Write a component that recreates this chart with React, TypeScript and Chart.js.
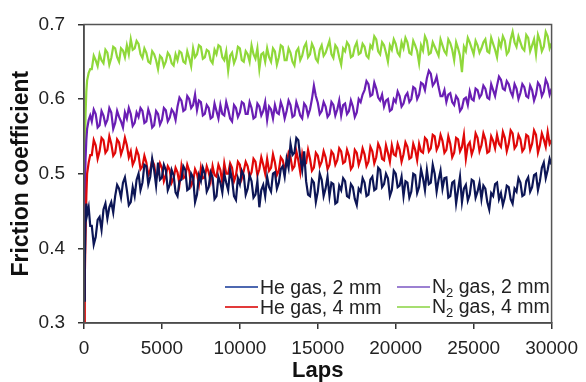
import React, { useEffect, useRef } from "react";
import { Chart, registerables } from "chart.js";

Chart.register(...registerables);

// Laps sampled: a few early points for the steep run-in, then every 250 laps, plus mid samples (every 250, offset 125)
const EARLY_LAPS = [0, 50, 100, 150, 200, 300, 400];
const MAIN_LAPS = Array.from({ length: 119 }, (_, i) => 500 + i * 250);
const MID_LAPS = Array.from({ length: 118 }, (_, i) => 625 + i * 250);

const X_TICKS = [0, 5000, 10000, 15000, 20000, 25000, 30000];
const Y_TICKS = [0.3, 0.4, 0.5, 0.6, 0.7];

// ---------- He gas, 2 mm ----------
const HE_2MM_START = [0.33, 0.38, 0.44, 0.46, 0.445, 0.455, 0.43];
const HE_2MM = [
  0.430, 0.415, 0.442, 0.452, 0.440, 0.462, 0.470, 0.480, 0.488, 0.478,
  0.462, 0.470, 0.500, 0.488, 0.510, 0.496, 0.505, 0.515, 0.495, 0.505,
  0.485, 0.498, 0.470, 0.492, 0.505, 0.480, 0.495, 0.472, 0.490, 0.500,
  0.482, 0.495, 0.470, 0.488, 0.500, 0.478, 0.492, 0.465, 0.486, 0.498,
  0.480, 0.490, 0.472, 0.455, 0.485, 0.496, 0.476, 0.502, 0.488, 0.510,
  0.520, 0.540, 0.528, 0.545, 0.505, 0.490, 0.470, 0.488, 0.476, 0.492,
  0.480, 0.470, 0.486, 0.462, 0.478, 0.490, 0.468, 0.482, 0.458, 0.476,
  0.488, 0.472, 0.496, 0.480, 0.505, 0.486, 0.494, 0.478, 0.500, 0.484,
  0.470, 0.488, 0.476, 0.498, 0.482, 0.494, 0.505, 0.488, 0.500, 0.492,
  0.480, 0.495, 0.470, 0.490, 0.478, 0.462, 0.485, 0.472, 0.490, 0.476,
  0.466, 0.480, 0.452, 0.470, 0.488, 0.474, 0.468, 0.482, 0.460, 0.476,
  0.488, 0.472, 0.495, 0.482, 0.500, 0.490, 0.515, 0.505, 0.512,
];
const HE_2MM_MID = [
  0.405, 0.438, 0.425, 0.460, 0.455, 0.448, 0.485, 0.468, 0.495, 0.458,
  0.482, 0.492, 0.478, 0.512, 0.486, 0.520, 0.484, 0.492, 0.512, 0.478,
  0.505, 0.475, 0.490, 0.510, 0.478, 0.500, 0.462, 0.498, 0.508, 0.476,
  0.502, 0.466, 0.496, 0.475, 0.488, 0.505, 0.470, 0.494, 0.504, 0.472,
  0.498, 0.468, 0.490, 0.478, 0.470, 0.482, 0.500, 0.480, 0.506, 0.496,
  0.508, 0.525, 0.548, 0.522, 0.530, 0.472, 0.492, 0.462, 0.500, 0.470,
  0.496, 0.488, 0.460, 0.484, 0.494, 0.470, 0.486, 0.466, 0.480, 0.494,
  0.470, 0.492, 0.478, 0.508, 0.482, 0.500, 0.470, 0.504, 0.482, 0.496,
  0.490, 0.468, 0.500, 0.474, 0.506, 0.478, 0.486, 0.512, 0.476, 0.504,
  0.494, 0.468, 0.488, 0.460, 0.496, 0.480, 0.464, 0.492, 0.468, 0.488,
  0.484, 0.462, 0.474, 0.486, 0.466, 0.458, 0.484, 0.466, 0.480, 0.494,
  0.470, 0.490, 0.476, 0.498, 0.478, 0.508, 0.494, 0.520,
];

// ---------- He gas, 4 mm ----------
const HE_4MM_START = [0.30, 0.36, 0.42, 0.47, 0.50, 0.515, 0.525];
const HE_4MM = [
  0.525, 0.538, 0.530, 0.545, 0.532, 0.540, 0.528, 0.542, 0.534, 0.538,
  0.530, 0.518, 0.525, 0.510, 0.515, 0.505, 0.512, 0.500, 0.508, 0.498,
  0.505, 0.494, 0.502, 0.510, 0.496, 0.504, 0.490, 0.500, 0.508, 0.495,
  0.502, 0.510, 0.496, 0.505, 0.514, 0.500, 0.508, 0.498, 0.512, 0.504,
  0.510, 0.502, 0.516, 0.506, 0.512, 0.520, 0.508, 0.515, 0.504, 0.518,
  0.512, 0.522, 0.510, 0.518, 0.526, 0.514, 0.520, 0.508, 0.524, 0.516,
  0.522, 0.512, 0.526, 0.518, 0.530, 0.516, 0.524, 0.510, 0.528, 0.520,
  0.526, 0.516, 0.530, 0.522, 0.534, 0.518, 0.528, 0.538, 0.524, 0.532,
  0.526, 0.536, 0.522, 0.532, 0.540, 0.528, 0.545, 0.534, 0.550, 0.538,
  0.544, 0.532, 0.540, 0.528, 0.546, 0.536, 0.520, 0.542, 0.534, 0.548,
  0.538, 0.546, 0.530, 0.544, 0.552, 0.536, 0.548, 0.540, 0.554, 0.538,
  0.546, 0.534, 0.550, 0.540, 0.552, 0.538, 0.546, 0.556, 0.545,
];
const HE_4MM_MID = [
  0.545, 0.520, 0.548, 0.528, 0.550, 0.524, 0.546, 0.526, 0.548, 0.522,
  0.512, 0.532, 0.506, 0.524, 0.498, 0.518, 0.494, 0.514, 0.490, 0.510,
  0.488, 0.508, 0.486, 0.494, 0.512, 0.484, 0.506, 0.486, 0.494, 0.510,
  0.490, 0.498, 0.512, 0.488, 0.500, 0.514, 0.490, 0.516, 0.494, 0.516,
  0.496, 0.520, 0.498, 0.522, 0.500, 0.504, 0.526, 0.498, 0.522, 0.506,
  0.528, 0.506, 0.530, 0.502, 0.512, 0.532, 0.504, 0.528, 0.510, 0.530,
  0.506, 0.530, 0.512, 0.534, 0.514, 0.532, 0.506, 0.532, 0.512, 0.534,
  0.510, 0.536, 0.514, 0.540, 0.520, 0.538, 0.516, 0.526, 0.540, 0.516,
  0.542, 0.520, 0.540, 0.518, 0.530, 0.548, 0.530, 0.552, 0.532, 0.552,
  0.528, 0.550, 0.522, 0.548, 0.530, 0.552, 0.538, 0.526, 0.554, 0.530,
  0.554, 0.528, 0.550, 0.534, 0.540, 0.556, 0.530, 0.558, 0.534, 0.552,
  0.530, 0.552, 0.532, 0.558, 0.528, 0.554, 0.536, 0.540,
];

// ---------- N2 gas, 2 mm ----------
const N2_2MM_START = [0.40, 0.47, 0.52, 0.545, 0.56, 0.572, 0.578];
const N2_2MM = [
  0.570, 0.580, 0.565, 0.578, 0.572, 0.582, 0.568, 0.576, 0.562, 0.574,
  0.580, 0.568, 0.576, 0.584, 0.570, 0.578, 0.565, 0.580, 0.572, 0.585,
  0.575, 0.582, 0.590, 0.598, 0.586, 0.600, 0.592, 0.585, 0.596, 0.580,
  0.588, 0.576, 0.584, 0.592, 0.578, 0.586, 0.570, 0.588, 0.582, 0.594,
  0.580, 0.588, 0.576, 0.590, 0.584, 0.572, 0.586, 0.592, 0.580, 0.588,
  0.584, 0.592, 0.578, 0.588, 0.574, 0.590, 0.586, 0.618, 0.595, 0.584,
  0.590, 0.580, 0.592, 0.586, 0.578, 0.594, 0.584, 0.590, 0.582, 0.596,
  0.612, 0.620, 0.606, 0.614, 0.598, 0.590, 0.600, 0.586, 0.596, 0.604,
  0.594, 0.608, 0.600, 0.614, 0.606, 0.620, 0.628, 0.634, 0.622, 0.616,
  0.604, 0.596, 0.608, 0.592, 0.600, 0.588, 0.602, 0.610, 0.598, 0.612,
  0.606, 0.614, 0.600, 0.612, 0.618, 0.626, 0.612, 0.620, 0.604, 0.614,
  0.608, 0.616, 0.602, 0.612, 0.606, 0.618, 0.610, 0.620, 0.614,
];
const N2_2MM_MID = [
  0.586, 0.562, 0.584, 0.566, 0.588, 0.560, 0.584, 0.570, 0.582, 0.588,
  0.564, 0.582, 0.588, 0.568, 0.586, 0.562, 0.584, 0.566, 0.588, 0.570,
  0.586, 0.572, 0.602, 0.584, 0.604, 0.588, 0.606, 0.598, 0.578, 0.592,
  0.574, 0.594, 0.574, 0.580, 0.596, 0.574, 0.592, 0.576, 0.596, 0.580,
  0.596, 0.574, 0.594, 0.578, 0.596, 0.590, 0.574, 0.582, 0.596, 0.574,
  0.598, 0.576, 0.596, 0.578, 0.594, 0.578, 0.600, 0.604, 0.580, 0.596,
  0.576, 0.596, 0.578, 0.598, 0.592, 0.580, 0.598, 0.576, 0.600, 0.606,
  0.624, 0.604, 0.622, 0.602, 0.606, 0.598, 0.584, 0.600, 0.610, 0.590,
  0.604, 0.596, 0.616, 0.600, 0.622, 0.612, 0.638, 0.618, 0.630, 0.604,
  0.612, 0.606, 0.596, 0.604, 0.584, 0.600, 0.592, 0.600, 0.614, 0.602,
  0.618, 0.602, 0.620, 0.604, 0.630, 0.614, 0.624, 0.610, 0.620, 0.600,
  0.620, 0.604, 0.618, 0.598, 0.622, 0.604, 0.626, 0.606,
];

// ---------- N2 gas, 4 mm ----------
const N2_4MM_START = [0.43, 0.52, 0.58, 0.61, 0.625, 0.635, 0.64];
const N2_4MM = [
  0.640, 0.652, 0.660, 0.648, 0.662, 0.655, 0.668, 0.650, 0.665, 0.672,
  0.680, 0.668, 0.674, 0.655, 0.662, 0.648, 0.660, 0.640, 0.655, 0.650,
  0.658, 0.645, 0.652, 0.662, 0.648, 0.655, 0.668, 0.660, 0.670, 0.656,
  0.664, 0.648, 0.660, 0.670, 0.652, 0.638, 0.662, 0.655, 0.668, 0.650,
  0.660, 0.672, 0.654, 0.640, 0.662, 0.668, 0.650, 0.664, 0.656, 0.670,
  0.652, 0.662, 0.645, 0.668, 0.658, 0.675, 0.660, 0.668, 0.650, 0.672,
  0.662, 0.678, 0.655, 0.668, 0.646, 0.664, 0.672, 0.658, 0.676, 0.662,
  0.670, 0.655, 0.668, 0.680, 0.660, 0.672, 0.650, 0.666, 0.674, 0.658,
  0.668, 0.676, 0.660, 0.672, 0.648, 0.665, 0.678, 0.662, 0.670, 0.658,
  0.672, 0.660, 0.675, 0.652, 0.668, 0.636, 0.664, 0.676, 0.660, 0.672,
  0.668, 0.680, 0.662, 0.674, 0.656, 0.670, 0.678, 0.664, 0.690, 0.670,
  0.676, 0.665, 0.682, 0.672, 0.660, 0.678, 0.670, 0.684, 0.675,
];
const N2_4MM_MID = [
  0.658, 0.644, 0.652, 0.666, 0.646, 0.670, 0.656, 0.668, 0.656, 0.660,
  0.666, 0.678, 0.660, 0.668, 0.650, 0.664, 0.652, 0.658, 0.644, 0.662,
  0.648, 0.660, 0.664, 0.650, 0.664, 0.644, 0.656, 0.672, 0.654, 0.666,
  0.652, 0.666, 0.672, 0.656, 0.664, 0.658, 0.648, 0.670, 0.652, 0.664,
  0.650, 0.660, 0.668, 0.660, 0.650, 0.656, 0.668, 0.646, 0.672, 0.652,
  0.668, 0.650, 0.664, 0.652, 0.670, 0.656, 0.674, 0.654, 0.666, 0.658,
  0.670, 0.660, 0.672, 0.656, 0.668, 0.676, 0.656, 0.670, 0.660, 0.674,
  0.658, 0.672, 0.684, 0.664, 0.676, 0.662, 0.672, 0.680, 0.662, 0.676,
  0.682, 0.662, 0.678, 0.664, 0.672, 0.684, 0.660, 0.676, 0.664, 0.680,
  0.664, 0.680, 0.666, 0.676, 0.658, 0.670, 0.682, 0.668, 0.678, 0.662,
  0.676, 0.664, 0.682, 0.666, 0.678, 0.684, 0.660, 0.680, 0.676, 0.684,
  0.668, 0.686, 0.664, 0.680, 0.686, 0.664, 0.690, 0.668,
];

const SERIES = [
  { label: "He gas, 2 mm", start: HE_2MM_START, main: HE_2MM, mid: HE_2MM_MID, color: "#0d1656", legend: "#4d68b0" },
  { label: "He gas, 4 mm", start: HE_4MM_START, main: HE_4MM, mid: HE_4MM_MID, color: "#e00808", legend: "#e23a3a" },
  { label: "N2 gas, 2 mm", start: N2_2MM_START, main: N2_2MM, mid: N2_2MM_MID, color: "#6a1eb4", legend: "#9c80d2" },
  { label: "N2 gas, 4 mm", start: N2_4MM_START, main: N2_4MM, mid: N2_4MM_MID, color: "#8fd83a", legend: "#a6de70" },
];

function buildPoints(start: number[], main: number[], mid: number[]) {
  const pts: { x: number; y: number }[] = [];
  start.forEach((v, i) => pts.push({ x: EARLY_LAPS[i], y: v }));
  main.forEach((v, i) => {
    pts.push({ x: MAIN_LAPS[i], y: v });
    if (i < mid.length) pts.push({ x: MID_LAPS[i], y: mid[i] });
  });
  return pts;
}

const FONT = "'Liberation Sans', Arial, Helvetica, sans-serif";

const framePlugin = {
  id: "frame",
  afterDatasetsDraw(chart: any) {
    const { ctx, chartArea } = chart;
    const { left, top, right, bottom } = chartArea;
    ctx.save();
    ctx.strokeStyle = "#555";
    ctx.lineWidth = 1.5;
    ctx.beginPath();
    ctx.moveTo(left, bottom);
    ctx.lineTo(left, top);
    ctx.lineTo(right, top);
    ctx.lineTo(right, bottom);
    ctx.closePath();
    ctx.stroke();
    ctx.restore();
  },
};

function LegendItem({ color, main, sub, rest }: { color: string; main: string; sub?: string; rest: string }) {
  return (
    <div style={{ display: "flex", alignItems: "center", height: 20 }}>
      <div style={{ width: 33, height: 2, background: color, marginRight: 2 }} />
      <span style={{ fontFamily: FONT, fontSize: 19.5, color: "#222", whiteSpace: "nowrap", lineHeight: "20px" }}>
        {main}
        {sub ? <span style={{ fontSize: 13, position: "relative", top: 4 }}>{sub}</span> : null}
        {rest}
      </span>
    </div>
  );
}

export default function App() {
  const canvasRef = useRef<HTMLCanvasElement | null>(null);

  useEffect(() => {
    document.body.style.margin = "0";
    const canvas = canvasRef.current;
    if (!canvas) return;
    const chart = new Chart(canvas, {
      type: "line",
      data: {
        datasets: SERIES.map((s) => ({
          label: s.label,
          data: buildPoints(s.start, s.main, s.mid),
          borderColor: s.color,
          backgroundColor: s.color,
          borderWidth: 2.2,
          pointRadius: 0,
          tension: 0,
          fill: false,
        })),
      },
      options: {
        animation: false,
        responsive: false,
        maintainAspectRatio: false,
        devicePixelRatio: 1,
        layout: { padding: { left: 0, top: 20, right: 30, bottom: 0 } },
        plugins: { legend: { display: false }, tooltip: { enabled: false } },
        scales: {
          x: {
            type: "linear",
            min: 0,
            max: 30000,
            afterFit: (scale: any) => {
              scale.height = 59;
            },
            afterBuildTicks: (scale: any) => {
              scale.ticks = X_TICKS.map((v) => ({ value: v }));
            },
            ticks: {
              color: "#222",
              font: { family: FONT, size: 19, lineHeight: 1.2 },
              padding: 8,
              maxRotation: 0,
              callback: (v: any) => String(v),
            },
            grid: { drawOnChartArea: false, drawTicks: true, tickLength: 6, color: "#333", lineWidth: 1.5 },
            border: { display: true, color: "#333", width: 1.5 },
            title: {
              display: true,
              text: "Laps",
              color: "#111",
              font: { family: FONT, size: 22, weight: "bold", lineHeight: 1 },
              padding: { top: 0, bottom: 0 },
            },
          },
          y: {
            type: "linear",
            min: 0.3,
            max: 0.7,
            afterFit: (scale: any) => {
              scale.width = 84;
            },
            afterBuildTicks: (scale: any) => {
              scale.ticks = Y_TICKS.map((v) => ({ value: v }));
            },
            ticks: {
              color: "#222",
              font: { family: FONT, size: 19 },
              padding: 13,
              callback: (v: any) => Number(v).toFixed(1),
            },
            grid: { drawOnChartArea: false, drawTicks: true, tickLength: 6, color: "#333", lineWidth: 1.5 },
            border: { display: true, color: "#333", width: 1.5 },
            title: {
              display: true,
              text: "Friction coefficient",
              color: "#111",
              font: { family: FONT, size: 23, weight: "bold", lineHeight: 1 },
              padding: { top: 10, bottom: 0 },
            },
          },
        },
      },
      plugins: [framePlugin],
    });
    return () => chart.destroy();
  }, []);

  return (
    <div style={{ position: "relative", width: 586, height: 382, background: "#fff" }}>
      <canvas ref={canvasRef} width={586} height={382} style={{ display: "block", width: 586, height: 382 }} />
      <div style={{ position: "absolute", left: 225, top: 277 }}>
        <LegendItem color={SERIES[0].legend} main="He gas, 2 mm" rest="" />
        <LegendItem color={SERIES[1].legend} main="He gas, 4 mm" rest="" />
      </div>
      <div style={{ position: "absolute", left: 397, top: 277 }}>
        <LegendItem color={SERIES[2].legend} main="N" sub="2" rest=" gas, 2 mm" />
        <LegendItem color={SERIES[3].legend} main="N" sub="2" rest=" gas, 4 mm" />
      </div>
    </div>
  );
}
